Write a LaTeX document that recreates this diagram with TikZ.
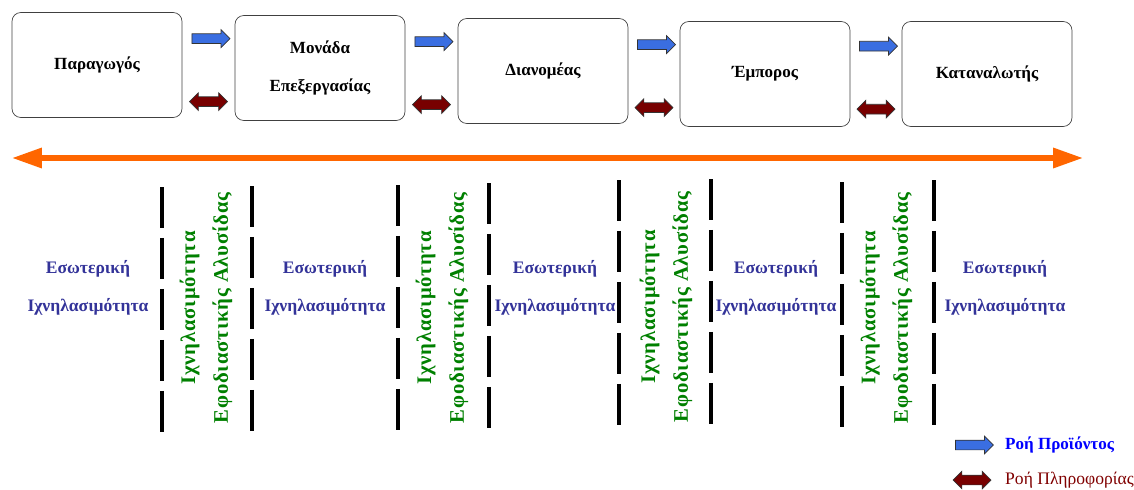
\documentclass[tikz,border=0pt]{standalone}
\usepackage{fontspec}
\setmainfont{Liberation Serif}
\usetikzlibrary{calc,arrows.meta,shapes.arrows}
\definecolor{prodblue}{RGB}{58,110,225}
\definecolor{infored}{RGB}{120,0,0}
\definecolor{axisorange}{RGB}{255,102,0}
\definecolor{textblue}{RGB}{51,51,153}
\definecolor{chaingreen}{RGB}{0,128,0}
\definecolor{legblue}{RGB}{0,0,255}
\definecolor{legred}{RGB}{128,0,0}

\begin{document}
\begin{tikzpicture}[x=0.02cm,y=-0.02cm,
    stage/.style={draw=black!75,rounded corners=5pt,minimum width=3.4cm,minimum height=2.1cm,
        align=center,font=\bfseries\fontsize{9.7}{21.5}\selectfont},
    prodarrow/.style={single arrow,draw=black!80,fill=prodblue,inner sep=0.09cm,
        minimum height=0.76cm,single arrow head extend=0.08cm},
    infoarrow/.style={double arrow,draw=black!80,fill=infored,inner sep=0.09cm,
        minimum height=0.76cm,double arrow head extend=0.08cm},
    divider/.style={line width=2.3pt,dash pattern=on 0.82cm off 0.2cm},
    internal/.style={text=textblue,align=center,font=\bfseries\fontsize{10}{21.5}\selectfont},
    chain/.style={text=chaingreen,rotate=90,align=center,
        font=\bfseries\fontsize{11.8}{18.5}\selectfont\addfontfeature{LetterSpace=4}}]
    \useasboundingbox (0,0) rectangle (1134,490);
    % stages
    \node[stage] (prod) at (97,65) {Παραγωγός};
    \node[stage] (proc) at (320,68) {Μονάδα\\Επεξεργασίας};
    \node[stage] (dist) at (543,71) {Διανομέας};
    \node[stage] (trade) at (765,74) {Έμπορος};
    \node[stage] (cons) at (987,74) {Καταναλωτής};
    % product and information flows
    \coordinate (g1) at ($(prod.north east)!0.5!(proc.north west)$);
    \coordinate (g2) at ($(proc.north east)!0.5!(dist.north west)$);
    \coordinate (g3) at ($(dist.north east)!0.5!(trade.north west)$);
    \coordinate (g4) at ($(trade.north east)!0.5!(cons.north west)$);
    \node[prodarrow] (p1) at ($(g1)+(0,25)$) {};
    \node[prodarrow] (p2) at ($(g2)+(0,25)$) {};
    \node[prodarrow] (p3) at ($(g3)+(0,25)$) {};
    \node[prodarrow] (p4) at ($(g4)+(0,25)$) {};
    \node[infoarrow] (i1) at ($(g1)+(0,88)$) {};
    \node[infoarrow] (i2) at ($(g2)+(0,88)$) {};
    \node[infoarrow] (i3) at ($(g3)+(0,88)$) {};
    \node[infoarrow] (i4) at ($(g4)+(0,88)$) {};
    % chain axis
    \coordinate (left) at (12,158);
    \coordinate (right) at (1083,158);
    \draw[axisorange,line width=3pt,{Triangle[length=17pt,width=11pt]}-{Triangle[length=17pt,width=11pt]}] (left) -- (right);
    % dividers
    \draw[divider] (162,187) -- (162,432);
    \draw[divider] (252,186) -- (252,432);
    \draw[divider] (398,185) -- (398,430);
    \draw[divider] (489,183) -- (489,428);
    \draw[divider] (619,180) -- (619,430);
    \draw[divider] (711,179) -- (711,430);
    \draw[divider] (842,182) -- (842,432);
    \draw[divider] (934,180) -- (934,430);
    % internal traceability
    \node[internal] (in1) at (88,288) {Εσωτερική\\Ιχνηλασιμότητα};
    \node[internal] (in2) at (325,288) {Εσωτερική\\Ιχνηλασιμότητα};
    \node[internal] (in3) at (555,288) {Εσωτερική\\Ιχνηλασιμότητα};
    \node[internal] (in4) at (776,288) {Εσωτερική\\Ιχνηλασιμότητα};
    \node[internal] (in5) at (1005,288) {Εσωτερική\\Ιχνηλασιμότητα};
    % chain traceability
    \node[chain] (ch1) at (206,308) {Ιχνηλασιμότητα\\Εφοδιαστικής Αλυσίδας};
    \node[chain] (ch2) at (442,308) {Ιχνηλασιμότητα\\Εφοδιαστικής Αλυσίδας};
    \node[chain] (ch3) at (666,307) {Ιχνηλασιμότητα\\Εφοδιαστικής Αλυσίδας};
    \node[chain] (ch4) at (886,308) {Ιχνηλασιμότητα\\Εφοδιαστικής Αλυσίδας};
    % legend
    \node[prodarrow] (lp) at (972,445) {};
    \node[infoarrow] (li) at (972,480) {};
    \node[anchor=west,text=legblue,font=\bfseries\fontsize{9.7}{12}\selectfont] (lpt) at (999,445) {Ροή Προϊόντος};
    \node[anchor=west,text=legred,font=\fontsize{10}{12}\selectfont] (lit) at (999,480) {Ροή Πληροφορίας};
\end{tikzpicture}
\end{document}
